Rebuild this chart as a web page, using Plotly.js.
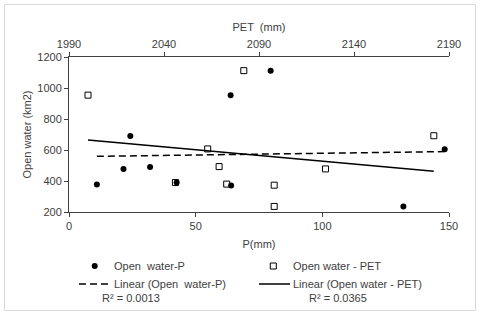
<!DOCTYPE html>
<html><head><meta charset="utf-8">
<script src="https://cdn.plot.ly/plotly-3.0.1.min.js"></script>
<style>html,body{margin:0;padding:0;background:#fff}#chart{width:480px;height:315px}</style>
</head><body><div id="chart"></div>
<script>
// Open water vs precipitation P (mm), bottom axis
const pValues = [11, 21.5, 24.2, 32, 42.5, 63.8, 64, 79.6, 132, 148.3];
const owP = [378, 477, 690, 491, 390, 954, 371, 1112, 236, 605];
// Open water vs PET (mm), top axis
const petValues = [2000, 2046, 2063, 2069, 2073, 2082, 2098, 2098, 2125, 2182];
const owPET = [954, 390, 607, 493, 380, 1112, 373, 236, 478, 692];
const r2P = "0.0013";
const r2PET = "0.0365";
const pTicks = [0, 50, 100, 150];
const petTicks = [1990, 2040, 2090, 2140, 2190];
const yTicks = [200, 400, 600, 800, 1000, 1200];

function linFit(x, y) {
  const n = x.length;
  const mx = x.reduce((a, b) => a + b, 0) / n;
  const my = y.reduce((a, b) => a + b, 0) / n;
  let sxy = 0, sxx = 0;
  for (let i = 0; i < n; i++) { sxy += (x[i] - mx) * (y[i] - my); sxx += (x[i] - mx) ** 2; }
  const m = sxy / sxx, b = my - m * mx;
  const x0 = Math.min(...x), x1 = Math.max(...x);
  return { x: [x0, x1], y: [m * x0 + b, m * x1 + b] };
}
const fP = linFit(pValues, owP);
const fPET = linFit(petValues, owPET);

const W = 480, H = 315, L = 69, R = 31, T = 57, B = 103;
const pw = W - L - R, ph = H - T - B;
const px = x => (x - L) / pw;
const py = y => (H - B - y) / ph;

const FONT = 'Liberation Sans, Arial, sans-serif';
const TXT = '#404040';
const LINE = '#404040';

const traces = [
  { x: pValues, y: owP, type: 'scatter', mode: 'markers', name: 'Open  water-P',
    marker: { symbol: 'circle', size: 6, color: '#000' }, xaxis: 'x', yaxis: 'y', showlegend: false },
  { x: petValues, y: owPET, type: 'scatter', mode: 'markers', name: 'Open water - PET',
    marker: { symbol: 'square-open', size: 6, color: '#000', line: { width: 1, color: '#000' } }, xaxis: 'x2', yaxis: 'y', showlegend: false },
  { x: fP.x, y: fP.y, type: 'scatter', mode: 'lines', name: 'Linear (Open  water-P)',
    line: { color: '#000', width: 1.5, dash: '7px,4px' }, xaxis: 'x', yaxis: 'y', showlegend: false },
  { x: fPET.x, y: fPET.y, type: 'scatter', mode: 'lines', name: 'Linear (Open water - PET)',
    line: { color: '#000', width: 1.5 }, xaxis: 'x2', yaxis: 'y', showlegend: false }
];

const axBase = {
  showgrid: false, zeroline: false, showline: true, linecolor: LINE, linewidth: 1,
  ticks: 'outside', ticklen: 4, tickcolor: LINE, tickwidth: 1,
  tickfont: { family: FONT, size: 11, color: TXT }
};

function ann(text, x, y, xanchor) {
  return { text, xref: 'paper', yref: 'paper', x: px(x), y: py(y), xanchor: xanchor || 'left', yanchor: 'middle',
    showarrow: false, font: { family: FONT, size: 11, color: TXT } };
}

const layout = {
  width: W, height: H, margin: { l: L, r: R, t: T, b: B },
  paper_bgcolor: '#fff', plot_bgcolor: '#fff', showlegend: false,
  font: { family: FONT, size: 11, color: TXT },
  xaxis: Object.assign({}, axBase, { range: [0, 150], tickvals: pTicks, ticktext: pTicks.map(String),
    title: { text: 'P(mm)', font: { family: FONT, size: 11, color: TXT }, standoff: 9 } }),
  xaxis2: Object.assign({}, axBase, { range: [1990, 2190], tickvals: petTicks, ticktext: petTicks.map(String),
    overlaying: 'x', side: 'top', anchor: 'y',
    title: { text: 'PET  (mm)', font: { family: FONT, size: 11, color: TXT }, standoff: 3 } }),
  yaxis: Object.assign({}, axBase, { range: [200, 1200], tickvals: yTicks, ticktext: yTicks.map(String),
    title: { text: 'Open water (km2)', font: { family: FONT, size: 11, color: TXT }, standoff: 3 } }),
  shapes: [
    { type: 'rect', xref: 'paper', yref: 'paper', x0: px(4.5), x1: px(475.5), y0: py(4.5), y1: py(310.5),
      line: { color: '#d9d9d9', width: 1 }, fillcolor: 'rgba(0,0,0,0)' },
    { type: 'circle', xref: 'paper', yref: 'paper', xsizemode: 'pixel', ysizemode: 'pixel',
      xanchor: px(94.7), yanchor: py(266), x0: -3, x1: 3, y0: -3, y1: 3, fillcolor: '#000', line: { width: 0 } },
    { type: 'rect', xref: 'paper', yref: 'paper', xsizemode: 'pixel', ysizemode: 'pixel',
      xanchor: px(273.3), yanchor: py(266), x0: -3, x1: 3, y0: -3, y1: 3, fillcolor: '#fff', line: { width: 1, color: '#000' } },
    { type: 'line', xref: 'paper', yref: 'paper', x0: px(79), x1: px(110), y0: py(284), y1: py(284),
      line: { color: '#000', width: 1.5, dash: '7px,4px' } },
    { type: 'line', xref: 'paper', yref: 'paper', x0: px(259), x1: px(290), y0: py(284), y1: py(284),
      line: { color: '#000', width: 1.5 } }
  ],
  annotations: [
    ann('Open  water-P', 111.7, 266),
    ann('Open water - PET', 291, 266),
    ann('Linear (Open  water-P)', 111.7, 284),
    ann('Linear (Open water - PET)', 291, 284),
    ann('R² = ' + r2P, 100, 297.5),
    ann('R² = ' + r2PET, 306.7, 297.5)
  ]
};

Plotly.newPlot('chart', traces, layout, { staticPlot: true, displayModeBar: false });
</script>
</body></html>
